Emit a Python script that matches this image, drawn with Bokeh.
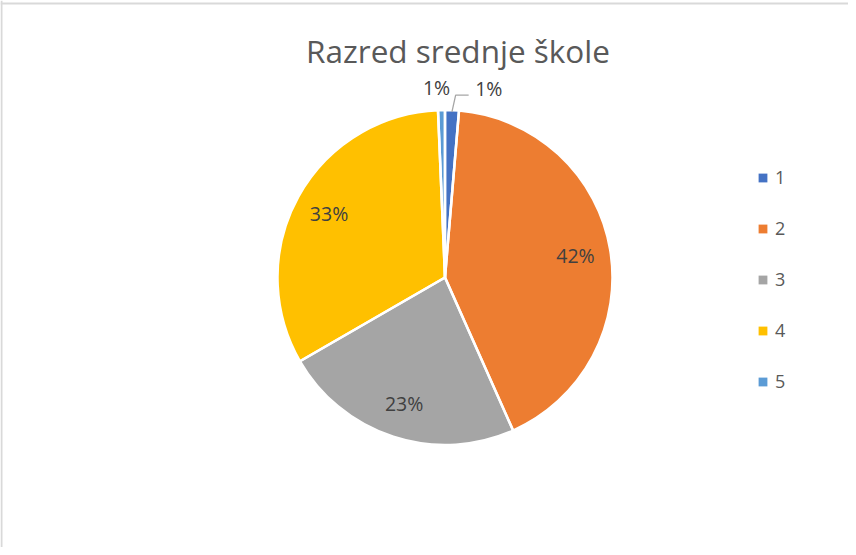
import math
from bokeh.plotting import figure
from bokeh.models import Range1d, ColumnDataSource, Legend, LegendItem, Label, Span
from bokeh.core.properties import value
from bokeh.embed import file_html
from bokeh.resources import INLINE

# ---- data ----
categories = ["1", "2", "3", "4", "5"]
counts = [2, 63, 35, 49, 1]
colors = ["#4472C4", "#ED7D31", "#A5A5A5", "#FFC000", "#5B9BD5"]
title_text = "Razred srednje škole"

FONT = "Open Sans"
W, H = 848, 547
# data coords == page pixel coords (x), y = 555 - page_y
cx, cy, R = 452.5, 555 - 285, 167.5

total = sum(counts)
fracs = [c / total for c in counts]
starts, ends, mids = [], [], []
cum = 0.0
for f in fracs:
    a0 = math.pi / 2 - 2 * math.pi * cum
    a1 = math.pi / 2 - 2 * math.pi * (cum + f)
    starts.append(a0)
    ends.append(a1)
    mids.append((a0 + a1) / 2)
    cum += f

p = figure(width=W, height=H, output_backend="svg", toolbar_location=None,
           x_range=Range1d(8, 8 + W), y_range=Range1d(0, H),
           min_border=0, min_border_left=0, min_border_right=0,
           min_border_top=0, min_border_bottom=0)
p.axis.visible = False
p.grid.visible = False
p.outline_line_color = None
p.background_fill_color = "white"
p.border_fill_color = "white"

# chart area border (left and top visible in the reference)
p.add_layout(Span(location=9, dimension="height", line_color="#d9d9d9", line_width=2))
p.add_layout(Span(location=555 - 11, dimension="width", line_color="#d9d9d9", line_width=2))

src = ColumnDataSource(dict(cat=categories, start=starts, end=ends, color=colors))
# filled slices (used for the legend swatches)
r = p.wedge(x=cx, y=cy, radius=R, start_angle="start", end_angle="end",
            direction="clock", fill_color="color", line_color=None, source=src)
# white separators on top
p.wedge(x=cx, y=cy, radius=R, start_angle="start", end_angle="end",
        direction="clock", fill_color=None, line_color="white",
        line_width=2.5, source=src)

# data labels
lx, ly, lt = [], [], []
out_off = {0: (36, 2), 4: (-4.5, 2)}
for i, (m, f) in enumerate(zip(mids, fracs)):
    txt = f"{round(f * 100):.0f}%"
    if f < 0.05:
        rr = R * 1.12
        dx, dy = out_off.get(i, (0, 0))
        lx.append(cx + rr * math.cos(m) + dx)
        ly.append(cy + rr * math.sin(m) + dy)
    else:
        rr = R * 0.79
        lx.append(cx + rr * math.cos(m))
        ly.append(cy + rr * math.sin(m))
    lt.append(txt)

p.text(x=lx, y=ly, text=lt, text_font=value(FONT), text_font_size="19.5px",
       text_color="#404040", text_align="center", text_baseline="middle")

# leader line for the first small slice
m0 = mids[0]
p0x, p0y = cx + R * 0.99 * math.cos(m0), cy + R * 0.99 * math.sin(m0)
p1x, p1y = cx + R * 1.09 * math.cos(m0) + 3, cy + R * 1.09 * math.sin(m0)
p.line(x=[p0x, p1x, p1x + 13], y=[p0y, p1y, p1y], line_color="#a6a6a6", line_width=1.3)

# title
p.add_layout(Label(x=465.5, y=555 - 57.5, text=title_text, text_font=FONT,
                   text_font_size="31.5px", text_color="#595959",
                   text_align="center", text_baseline="alphabetic"))

legend = Legend(items=[LegendItem(label=c, renderers=[r], index=i)
                       for i, c in enumerate(categories)],
                location=(757, 154), orientation="vertical",
                glyph_width=11, glyph_height=11, label_standoff=7,
                label_height=24, spacing=27, padding=0, margin=0,
                border_line_color=None, background_fill_alpha=0,
                label_text_font=FONT, label_text_font_size="18px",
                label_text_color="#595959")
p.add_layout(legend)

open("out.html", "w").write(file_html(p, INLINE))
